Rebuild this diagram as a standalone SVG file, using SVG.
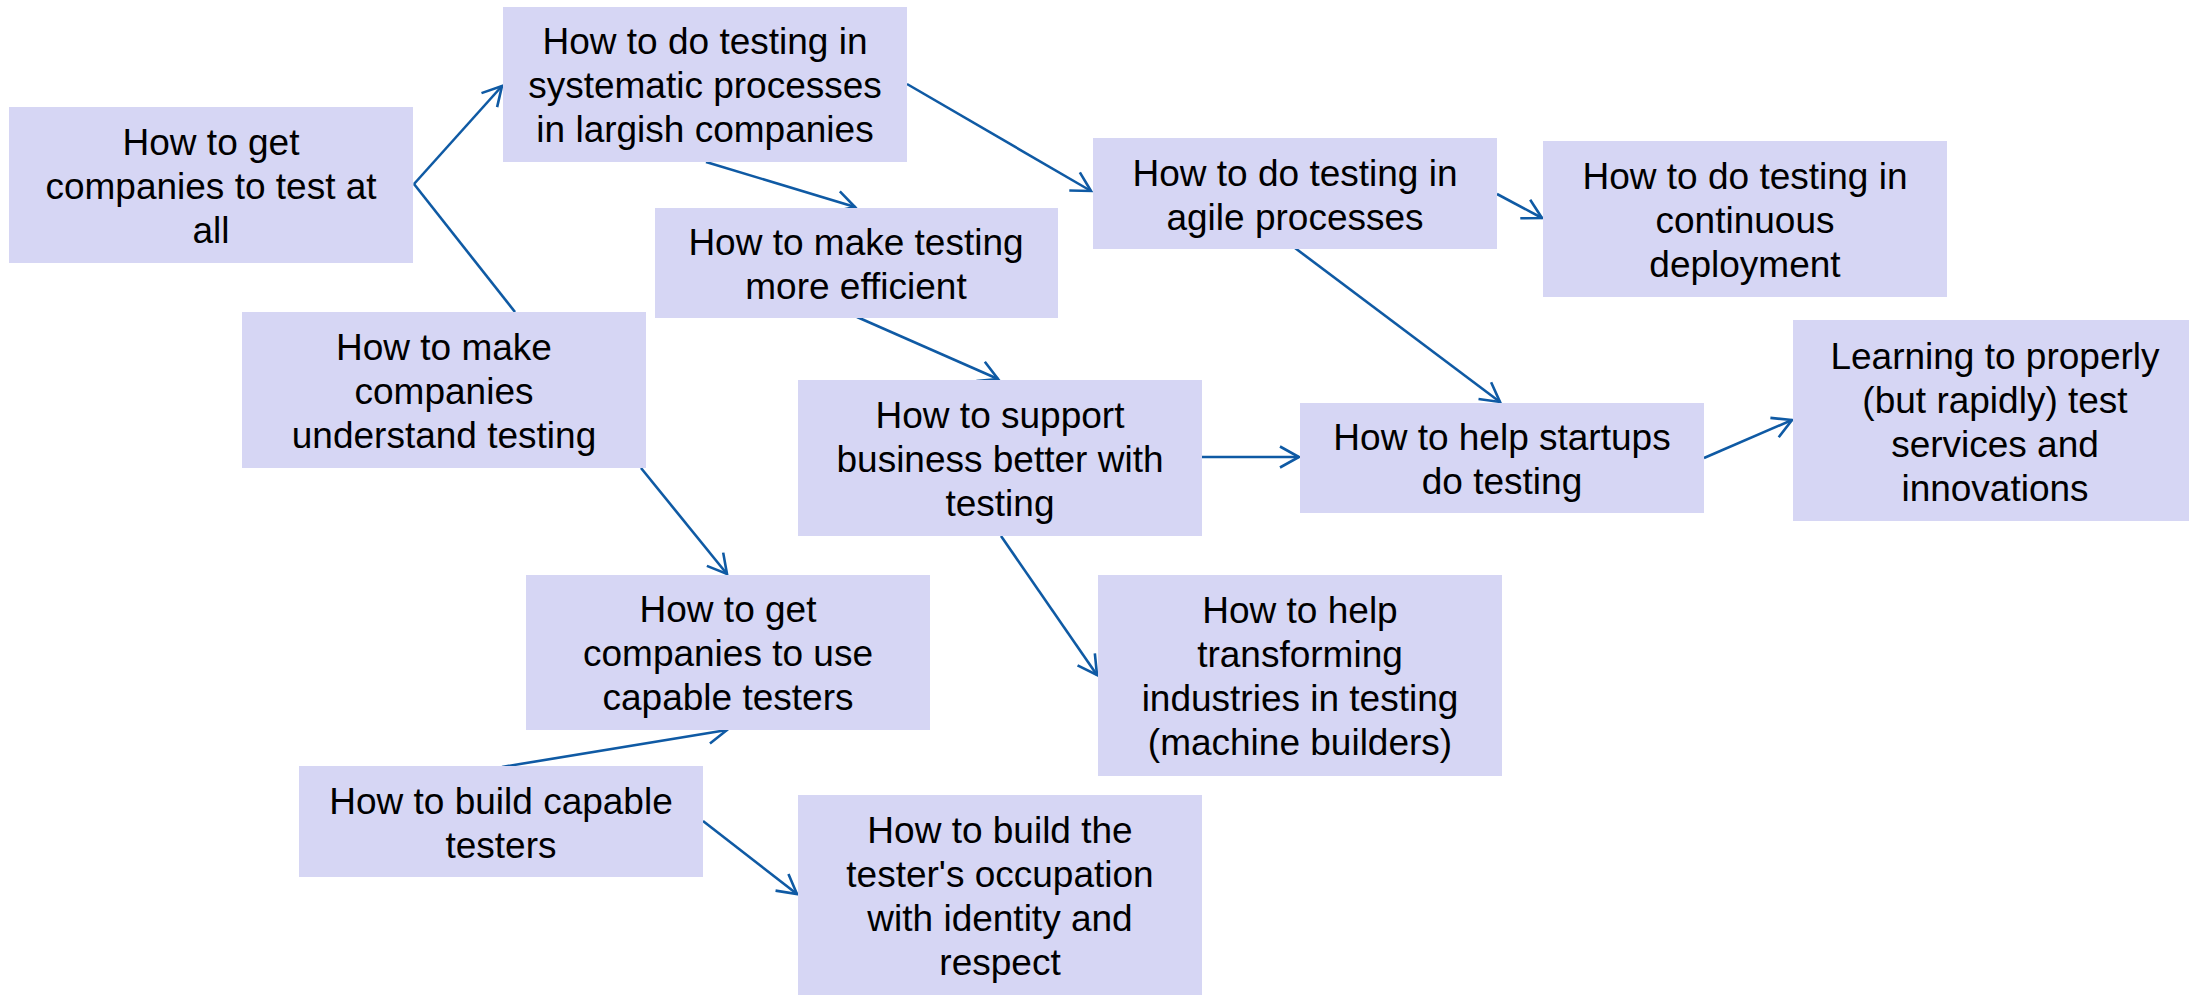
<svg xmlns="http://www.w3.org/2000/svg" width="2189" height="995" viewBox="0 0 2189 995">
<style>
.box{fill:#D6D6F4;stroke:none}
.t{font-family:"Liberation Sans",Arial,sans-serif;font-size:37px;fill:#000;text-anchor:middle}
.c{fill:none;stroke:#0F5AA4;stroke-width:2.6}
</style>
<defs>
<marker id="ah" viewBox="0 0 24 24" refX="21" refY="12" markerWidth="24" markerHeight="24" markerUnits="userSpaceOnUse" orient="auto">
<path d="M2,1.5 L21,12 L2,22.5" fill="none" stroke="#0F5AA4" stroke-width="2.6"/>
</marker>
</defs>
<rect width="2189" height="995" fill="#fff"/>
<g id="connectors">
<line class="c" x1="515" y1="312" x2="414" y2="184"/>
<line class="c" x1="414" y1="184" x2="502" y2="86" marker-end="url(#ah)"/>
<line class="c" x1="706" y1="162" x2="855" y2="207" marker-end="url(#ah)"/>
<line class="c" x1="907" y1="84" x2="1091" y2="191" marker-end="url(#ah)"/>
<line class="c" x1="1497" y1="194" x2="1542" y2="218" marker-end="url(#ah)"/>
<line class="c" x1="857" y1="317" x2="998" y2="379" marker-end="url(#ah)"/>
<line class="c" x1="1295" y1="248" x2="1500" y2="402" marker-end="url(#ah)"/>
<line class="c" x1="1202" y1="457" x2="1299" y2="457" marker-end="url(#ah)"/>
<line class="c" x1="1704" y1="458" x2="1792" y2="420" marker-end="url(#ah)"/>
<line class="c" x1="641" y1="468" x2="727" y2="574" marker-end="url(#ah)"/>
<line class="c" x1="1001" y1="536" x2="1097" y2="675" marker-end="url(#ah)"/>
<line class="c" x1="502" y1="767" x2="727" y2="730" marker-end="url(#ah)"/>
<line class="c" x1="703" y1="821" x2="797" y2="894" marker-end="url(#ah)"/>
</g>
<g id="n1"><rect class="box" x="9" y="107" width="404" height="156"/>
<text class="t" x="211" y="155">How to get</text><text class="t" x="211" y="199">companies to test at</text><text class="t" x="211" y="243">all</text></g>
<g id="n2"><rect class="box" x="503" y="7" width="404" height="155"/>
<text class="t" x="705" y="54">How to do testing in</text><text class="t" x="705" y="98">systematic processes</text><text class="t" x="705" y="142">in largish companies</text></g>
<g id="n3"><rect class="box" x="655" y="208" width="403" height="110"/>
<text class="t" x="856" y="255">How to make testing</text><text class="t" x="856" y="299">more efficient</text></g>
<g id="n4"><rect class="box" x="242" y="312" width="404" height="156"/>
<text class="t" x="444" y="360">How to make</text><text class="t" x="444" y="404">companies</text><text class="t" x="444" y="448">understand testing</text></g>
<g id="n5"><rect class="box" x="798" y="380" width="404" height="156"/>
<text class="t" x="1000" y="428">How to support</text><text class="t" x="1000" y="472">business better with</text><text class="t" x="1000" y="516">testing</text></g>
<g id="n6"><rect class="box" x="1093" y="138" width="404" height="111"/>
<text class="t" x="1295" y="186">How to do testing in</text><text class="t" x="1295" y="230">agile processes</text></g>
<g id="n7"><rect class="box" x="1543" y="141" width="404" height="156"/>
<text class="t" x="1745" y="189">How to do testing in</text><text class="t" x="1745" y="233">continuous</text><text class="t" x="1745" y="277">deployment</text></g>
<g id="n8"><rect class="box" x="1300" y="403" width="404" height="110"/>
<text class="t" x="1502" y="450">How to help startups</text><text class="t" x="1502" y="494">do testing</text></g>
<g id="n9"><rect class="box" x="1793" y="320" width="404" height="201"/>
<text class="t" x="1995" y="369">Learning to properly</text><text class="t" x="1995" y="413">(but rapidly) test</text><text class="t" x="1995" y="457">services and</text><text class="t" x="1995" y="501">innovations</text></g>
<g id="n10"><rect class="box" x="526" y="575" width="404" height="155"/>
<text class="t" x="728" y="622">How to get</text><text class="t" x="728" y="666">companies to use</text><text class="t" x="728" y="710">capable testers</text></g>
<g id="n11"><rect class="box" x="1098" y="575" width="404" height="201"/>
<text class="t" x="1300" y="623">How to help</text><text class="t" x="1300" y="667">transforming</text><text class="t" x="1300" y="711">industries in testing</text><text class="t" x="1300" y="755">(machine builders)</text></g>
<g id="n12"><rect class="box" x="299" y="766" width="404" height="111"/>
<text class="t" x="501" y="814">How to build capable</text><text class="t" x="501" y="858">testers</text></g>
<g id="n13"><rect class="box" x="798" y="795" width="404" height="200"/>
<text class="t" x="1000" y="843">How to build the</text><text class="t" x="1000" y="887">tester's occupation</text><text class="t" x="1000" y="931">with identity and</text><text class="t" x="1000" y="975">respect</text></g>
</svg>
